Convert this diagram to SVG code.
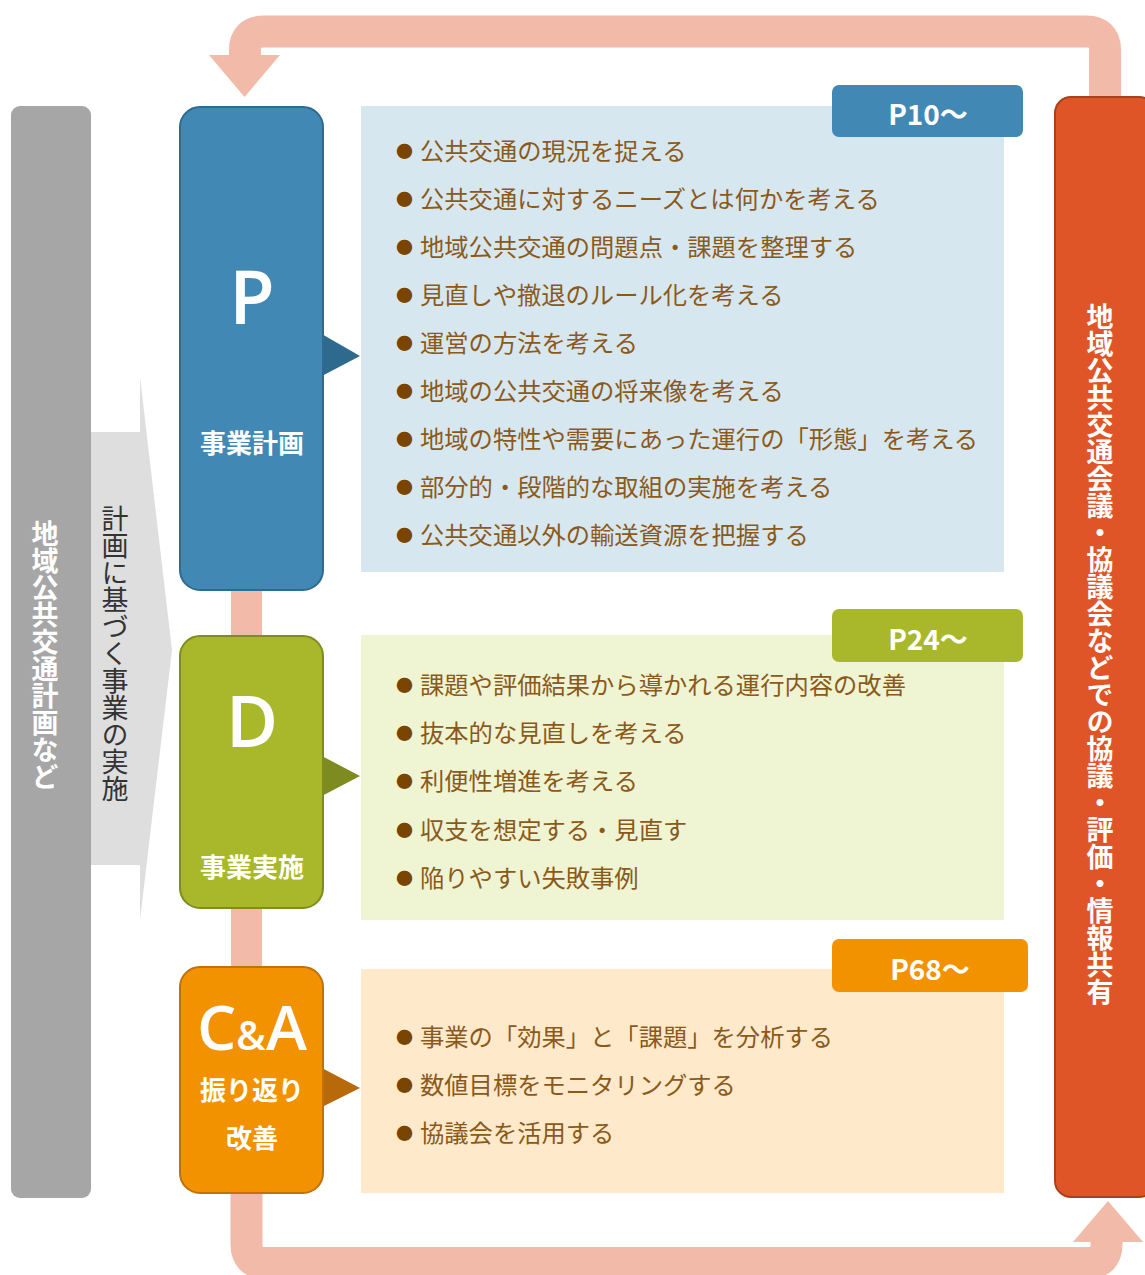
<svg xmlns="http://www.w3.org/2000/svg" width="1145" height="1275" viewBox="0 0 1145 1275">
<style>
.band{fill:none;stroke:#F2BAA9;stroke-width:32;stroke-linejoin:round}
.pink{fill:#F2BAA9}
.item{font-family:"Noto Sans CJK JP","Noto Sans",sans-serif;font-size:24.3px;fill:#8B5A1B}
.dot{fill:#7A4500;font-size:17px}
.lbl{font-family:"Noto Sans CJK JP","Noto Sans",sans-serif;font-size:26px;font-weight:bold;fill:#fff;text-anchor:middle}
.big{font-family:"Open Sans","Noto Sans",sans-serif;fill:#fff;text-anchor:middle}
.tag{font-family:"Noto Sans CJK JP","Noto Sans",sans-serif;font-size:28px;font-weight:bold;fill:#fff;text-anchor:middle}
.vt{writing-mode:vertical-rl;font-family:"Noto Sans CJK JP","Noto Sans",sans-serif}
</style>
<rect width="1145" height="1275" fill="#fff"/>
<g id="connectors">
<path class="band" d="M245,62 V50 Q245,31.5 264,31.5 H1086 Q1105,31.5 1105,50 V110"/>
<polygon class="pink" points="209,55 280,55 244.5,97"/>
<rect class="pink" x="231" y="580" width="31" height="620"/>
<path class="band" d="M246.5,1180 V1244 Q246.5,1263 265,1263 H1088 Q1106.5,1263 1106.5,1244 V1236"/>
<polygon class="pink" points="1073,1242 1143,1242 1108,1201"/>
</g>
<g id="left-bar">
<rect x="11" y="106" width="80" height="1092" rx="9" fill="#A6A6A6"/>
<text class="vt" x="45" y="520" font-size="27" font-weight="bold" fill="#fff">地域公共交通計画など</text>
</g>
<g id="plan-arrow">
<polygon points="91,432 140,432 140,377 172,650 140,920 140,865 91,865" fill="#DEDEDE"/>
<text class="vt" x="115" y="505" font-size="27" fill="#333">計画に基づく事業の実施</text>
</g>
<g id="panel-P">
<rect x="361" y="106" width="643" height="466" fill="#D7E7F0"/>
<rect x="832" y="85" width="191" height="52" rx="7" fill="#4189B4"/>
<text class="tag" x="928" y="125">P10～</text>
<text class="item" x="396" y="160"><tspan class="dot" dy="-2">●</tspan><tspan dx="7" dy="2">公共交通の現況を捉える</tspan></text>
<text class="item" x="396" y="208"><tspan class="dot" dy="-2">●</tspan><tspan dx="7" dy="2">公共交通に対するニーズとは何かを考える</tspan></text>
<text class="item" x="396" y="256"><tspan class="dot" dy="-2">●</tspan><tspan dx="7" dy="2">地域公共交通の問題点・課題を整理する</tspan></text>
<text class="item" x="396" y="304"><tspan class="dot" dy="-2">●</tspan><tspan dx="7" dy="2">見直しや撤退のルール化を考える</tspan></text>
<text class="item" x="396" y="352"><tspan class="dot" dy="-2">●</tspan><tspan dx="7" dy="2">運営の方法を考える</tspan></text>
<text class="item" x="396" y="400"><tspan class="dot" dy="-2">●</tspan><tspan dx="7" dy="2">地域の公共交通の将来像を考える</tspan></text>
<text class="item" x="396" y="448"><tspan class="dot" dy="-2">●</tspan><tspan dx="7" dy="2">地域の特性や需要にあった運行の「形態」を考える</tspan></text>
<text class="item" x="396" y="496"><tspan class="dot" dy="-2">●</tspan><tspan dx="7" dy="2">部分的・段階的な取組の実施を考える</tspan></text>
<text class="item" x="396" y="544"><tspan class="dot" dy="-2">●</tspan><tspan dx="7" dy="2">公共交通以外の輸送資源を把握する</tspan></text>
</g>
<g id="panel-D">
<rect x="361" y="635" width="643" height="285" fill="#EFF4D3"/>
<rect x="832" y="609" width="191" height="53" rx="7" fill="#A8B82A"/>
<text class="tag" x="928" y="650">P24～</text>
<text class="item" x="396" y="694"><tspan class="dot" dy="-2">●</tspan><tspan dx="7" dy="2">課題や評価結果から導かれる運行内容の改善</tspan></text>
<text class="item" x="396" y="742"><tspan class="dot" dy="-2">●</tspan><tspan dx="7" dy="2">抜本的な見直しを考える</tspan></text>
<text class="item" x="396" y="790"><tspan class="dot" dy="-2">●</tspan><tspan dx="7" dy="2">利便性増進を考える</tspan></text>
<text class="item" x="396" y="839"><tspan class="dot" dy="-2">●</tspan><tspan dx="7" dy="2">収支を想定する・見直す</tspan></text>
<text class="item" x="396" y="887"><tspan class="dot" dy="-2">●</tspan><tspan dx="7" dy="2">陥りやすい失敗事例</tspan></text>
</g>
<g id="panel-CA">
<rect x="361" y="969" width="643" height="224" fill="#FEE9CA"/>
<rect x="832" y="939" width="196" height="53" rx="7" fill="#F39200"/>
<text class="tag" x="930" y="980">P68～</text>
<text class="item" x="396" y="1046"><tspan class="dot" dy="-2">●</tspan><tspan dx="7" dy="2">事業の「効果」と「課題」を分析する</tspan></text>
<text class="item" x="396" y="1094"><tspan class="dot" dy="-2">●</tspan><tspan dx="7" dy="2">数値目標をモニタリングする</tspan></text>
<text class="item" x="396" y="1142"><tspan class="dot" dy="-2">●</tspan><tspan dx="7" dy="2">協議会を活用する</tspan></text>
</g>
<g id="node-P">
<polygon points="320,333 360,356 320,377" fill="#2E6A8D"/>
<rect x="180" y="107" width="143" height="483" rx="20" fill="#4189B4" stroke="#2F6A90" stroke-width="2"/>
<text class="big" x="252" y="324" font-size="74" font-weight="600">P</text>
<text class="lbl" x="252" y="453">事業計画</text>
</g>
<g id="node-D">
<polygon points="320,755 360,776 320,797" fill="#7E8B21"/>
<rect x="180" y="636" width="143" height="272" rx="20" fill="#A8B82A" stroke="#7F8C20" stroke-width="2"/>
<text class="big" x="252" y="747" font-size="71" font-weight="600">D</text>
<text class="lbl" x="252" y="877">事業実施</text>
</g>
<g id="node-CA">
<polygon points="320,1067 360,1088 320,1108" fill="#B8690A"/>
<rect x="180" y="967" width="143" height="226" rx="20" fill="#F39200" stroke="#C0710A" stroke-width="2"/>
<text class="big" x="252" y="1050" font-weight="600"><tspan font-size="62">C</tspan><tspan font-size="40">&amp;</tspan><tspan font-size="62">A</tspan></text>
<text class="lbl" x="252" y="1100">振り返り</text>
<text class="lbl" x="252" y="1148">改善</text>
</g>
<g id="right-bar">
<rect x="1055" y="97" width="100" height="1100" rx="16" fill="#E05527" stroke="#A9411C" stroke-width="2"/>
<text class="vt" x="1100" y="303" font-size="27" font-weight="bold" fill="#fff">地域公共交通会議・協議会などでの協議・評価・情報共有</text>
</g>
</svg>
